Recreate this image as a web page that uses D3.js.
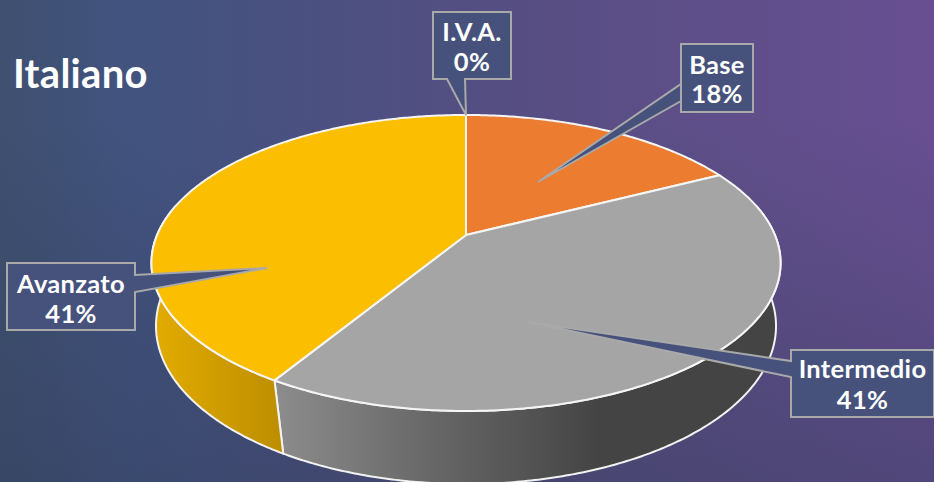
<!DOCTYPE html>
<html>
<head>
<meta charset="utf-8">
<script src="https://cdn.jsdelivr.net/npm/d3@7"></script>
<style>
html, body { margin: 0; padding: 0; background: #444; }
svg { display: block; }
text { font-family: Lato, sans-serif; font-weight: 700; fill: #fff; }
</style>
</head>
<body>
<svg class="pie_chart"></svg>
<script>
const categories = ['Base', 'Intermedio', 'Avanzato', 'I.V.A.'];
const values = [17.5, 41.2, 41.3, 0];
const sliceColors = ['#eb7c30', '#a5a5a5', '#fbbe00', '#a5a5a5'];
const title = 'Italiano';

const config = {
    svg: { width: 934, height: 482 },
    cx: 466,
    // perspective disc, top face and bottom face of the pie
    top: { r: 308.9, a: 98.3, b: 235, c: -0.189 },
    bottom: { r: 306.5, a: 109.1, b: 302.3, c: -0.15 }
};

// callout boxes, same order as categories
const callouts = [
    { box: [681, 44, 753, 112], tail: [[681, 84], [538, 182], [681, 101]], line1: 74, line2: 103 },
    { box: [791, 350, 934, 417], tail: [[791, 377], [528, 322], [791, 361]], line1: 378, line2: 409 },
    { box: [7, 263, 135, 330], tail: [[135, 275], [267, 268], [135, 292]], line1: 293, line2: 323 },
    { box: [433, 12, 511, 79], tail: [[465, 79], [466, 115], [447, 79]], line1: 41, line2: 71 }
];

function project(face, angle) {
    let u = Math.sin(angle), v = -Math.cos(angle);
    let w = 1 + face.c * v;
    return [config.cx + face.r * u / w, (face.a * v + face.b) / w];
}

function arcPoints(face, a0, a1) {
    let n = Math.max(2, Math.ceil(Math.abs(a1 - a0) / 0.01));
    return d3.range(n + 1).map((i) => project(face, a0 + (a1 - a0) * i / n));
}

let svg = d3.select('.pie_chart')
    .attr('width', config.svg.width)
    .attr('height', config.svg.height);

let defs = svg.append('defs');

function gradient(id, attrs, stops) {
    let g = defs.append('linearGradient')
        .attr('id', id)
        .attr('gradientUnits', 'userSpaceOnUse');
    Object.keys(attrs).forEach((k) => g.attr(k, attrs[k]));
    stops.forEach((s) => g.append('stop')
        .attr('offset', s[0]).attr('stop-color', s[1]).attr('stop-opacity', s[2] === undefined ? 1 : s[2]));
}

gradient('bg', { x1: 0, y1: 0, x2: 934, y2: 0 }, [[0, '#3f5070'], [0.15, '#425380'], [0.55, '#564e82'], [1, '#684f92']]);
gradient('bgShade', { x1: 0, y1: 120, x2: 0, y2: 482 }, [[0, '#2f3a55', 0], [1, '#2f3a55', 0.4]]);
gradient('wallGray', { x1: 280, y1: 0, x2: 600, y2: 0 }, [[0, '#8b8b8b'], [0.45, '#696969'], [1, '#444444']]);
gradient('wallYellow', { x1: 155, y1: 0, x2: 280, y2: 0 }, [[0, '#e2ab00'], [1, '#bd8e00']]);

svg.append('rect').attr('width', config.svg.width).attr('height', config.svg.height).attr('fill', 'url(#bg)');
svg.append('rect').attr('width', config.svg.width).attr('height', config.svg.height).attr('fill', 'url(#bgShade)');

let slices = d3.pie().sort(null).value((d) => d).startAngle(0).endAngle(2 * Math.PI)(values);
let line = d3.line();

// walls, only the part facing the viewer
let wallFrom = 78 * Math.PI / 180, wallTo = 282 * Math.PI / 180;
let wallFills = ['#c05f20', 'url(#wallGray)', 'url(#wallYellow)', '#777'];

svg.append('g').selectAll('path')
    .data(slices.filter((d) => d.endAngle > wallFrom && d.startAngle < wallTo && d.value > 0))
    .enter().append('path')
    .attr('d', (d) => {
        let a0 = Math.max(d.startAngle, wallFrom), a1 = Math.min(d.endAngle, wallTo);
        return line(arcPoints(config.top, a0, a1).concat(arcPoints(config.bottom, a1, a0))) + 'Z';
    })
    .attr('fill', (d) => wallFills[d.index])
    .attr('stroke', '#f2f2f2')
    .attr('stroke-width', 2)
    .attr('stroke-linejoin', 'round');

// top face
let apex = [config.cx, config.top.b];
svg.append('g').selectAll('path')
    .data(slices.filter((d) => d.value > 0))
    .enter().append('path')
    .attr('d', (d) => line([apex].concat(arcPoints(config.top, d.startAngle, d.endAngle))) + 'Z')
    .attr('fill', (d) => sliceColors[d.index])
    .attr('stroke', '#f5f5f5')
    .attr('stroke-width', 2)
    .attr('stroke-linejoin', 'round');

// callouts with tail
let labels = svg.append('g').selectAll('g')
    .data(categories)
    .enter().append('g');

function calloutPath(c) {
    let [x0, y0, x1, y1] = c.box, t = c.tail;
    if (t[0][0] === x0) {
        return line([[x0, y0], [x1, y0], [x1, y1], [x0, y1], t[0], t[1], t[2]]) + 'Z';
    }
    if (t[0][0] === x1) {
        return line([[x0, y0], [x1, y0], t[0], t[1], t[2], [x1, y1], [x0, y1]]) + 'Z';
    }
    return line([[x0, y0], [x1, y0], [x1, y1], t[0], t[1], t[2], [x0, y1]]) + 'Z';
}

labels.append('path')
    .attr('d', (d, i) => calloutPath(callouts[i]))
    .attr('fill', '#46527c')
    .attr('stroke', '#a9a9a9')
    .attr('stroke-width', 2);

labels.append('text')
    .attr('x', (d, i) => (callouts[i].box[0] + callouts[i].box[2]) / 2)
    .attr('y', (d, i) => callouts[i].line1)
    .attr('text-anchor', 'middle')
    .style('font-size', '25.5px')
    .style('letter-spacing', '0.3px')
    .text((d) => d);

labels.append('text')
    .attr('x', (d, i) => (callouts[i].box[0] + callouts[i].box[2]) / 2)
    .attr('y', (d, i) => callouts[i].line2)
    .attr('text-anchor', 'middle')
    .style('font-size', '25.5px')
    .style('letter-spacing', '0.3px')
    .text((d, i) => Math.round(values[i]) + '%');

svg.append('text')
    .attr('x', 13)
    .attr('y', 88)
    .style('font-size', '40px')
    .style('letter-spacing', '0.3px')
    .text(title);
</script>
</body>
</html>
